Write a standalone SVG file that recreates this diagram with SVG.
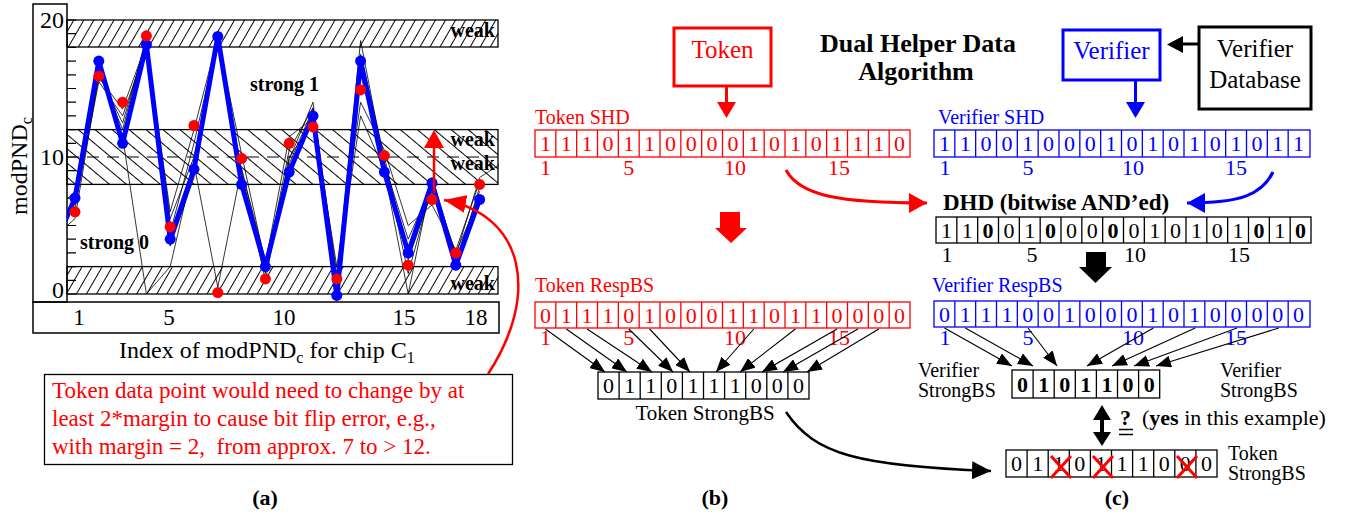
<svg xmlns="http://www.w3.org/2000/svg" width="1361" height="519" viewBox="0 0 1361 519">
<defs>
<style>
text{font-family:"Liberation Serif","Times New Roman",serif;}
.b{font-weight:bold}
.box{fill:none;stroke-width:1.3}
.red{fill:#f00}
.blue{fill:#00f}
.blk{fill:#000}
.thin{fill:none;stroke:#000;stroke-width:0.8}
.ax{fill:none;stroke:#000;stroke-width:1.5}
.arr{stroke:#000;stroke-width:1.1;fill:none;marker-end:url(#ahK)}
</style>
<pattern id="hatchF" patternUnits="userSpaceOnUse" width="8.7" height="10" patternTransform="rotate(30)"><line x1="4.35" y1="-1" x2="4.35" y2="11" stroke="#000" stroke-width="1"/></pattern>
<pattern id="hatchB" patternUnits="userSpaceOnUse" width="10.9" height="10" patternTransform="rotate(-50)"><line x1="5.45" y1="-1" x2="5.45" y2="11" stroke="#000" stroke-width="1"/></pattern>
<clipPath id="plotclip"><rect x="67" y="4" width="432" height="294"/></clipPath>
<marker id="ahK" markerUnits="userSpaceOnUse" markerWidth="15" markerHeight="12" refX="15" refY="6" orient="auto"><path d="M0,0L15,6L0,12z" fill="#000"/></marker>
<marker id="ahK2" markerUnits="userSpaceOnUse" markerWidth="19" markerHeight="18" refX="19" refY="9" orient="auto"><path d="M0,0L19,9L0,18z" fill="#000"/></marker>
<marker id="ahR" markerUnits="userSpaceOnUse" markerWidth="18" markerHeight="20" refX="18" refY="10" orient="auto"><path d="M0,0L18,10L0,20z" fill="#f00"/></marker>
<marker id="ahBl" markerUnits="userSpaceOnUse" markerWidth="18" markerHeight="20" refX="18" refY="10" orient="auto"><path d="M0,0L18,10L0,20z" fill="#00f"/></marker>
<marker id="ahR2" markerUnits="userSpaceOnUse" markerWidth="22" markerHeight="18" refX="22" refY="9" orient="auto"><path d="M0,0L22,9L0,18z" fill="#f00"/></marker>
</defs>
<rect width="1361" height="519" fill="#fff"/>

<!-- (a) chart -->
<g id="chart">
<rect x="67" y="20" width="431" height="27" fill="url(#hatchF)" stroke="#000" stroke-width="1.3"/>
<rect x="67" y="129.6" width="431" height="54.8" fill="url(#hatchB)" stroke="#000" stroke-width="1.3"/>
<rect x="67" y="266.6" width="431" height="27.4" fill="url(#hatchF)" stroke="#000" stroke-width="1.3"/>
<line x1="67" y1="157" x2="498" y2="157" stroke="#000" stroke-width="1.2" stroke-dasharray="12 8"/>
<rect x="33" y="4" width="34" height="298" class="ax"/>
<rect x="33" y="302" width="466" height="31" class="ax"/>
<path d="M67 294h9M67 280.3h9M67 266.6h9M67 252.9h9M67 239.2h9M67 225.5h9M67 211.8h9M67 198.1h9M67 184.4h9M67 170.7h9M67 157h9M67 143.3h9M67 129.6h9M67 115.9h9M67 102.2h9M67 88.5h9M67 74.8h9M67 61.1h9M67 47.4h9M67 33.7h9M67 20h9" stroke="#000" stroke-width="1.2"/>
<g font-size="24" text-anchor="end"><text x="64" y="28">20</text><text x="64" y="165">10</text><text x="64" y="298">0</text></g>
<text transform="translate(27,166) rotate(-90)" font-size="24" text-anchor="middle">modPND<tspan font-size="16" dy="5">c</tspan></text>
<g font-size="23" text-anchor="middle"><text x="79" y="325">1</text><text x="169" y="325">5</text><text x="284" y="325">10</text><text x="404" y="325">15</text><text x="476" y="325">18</text></g>
<text x="119" y="358" font-size="24">Index of modPND<tspan font-size="16" dy="5">c</tspan><tspan dy="-5"> for chip C</tspan><tspan font-size="16" dy="5">1</tspan></text>
<g clip-path="url(#plotclip)">
<polyline class="thin" points="51.2,240 75,218.6 98.8,74.8 122.6,122.8 146.4,40.6 170.2,218.6 194,157 217.8,40.6 241.6,170.7 265.4,259.8 289.2,163.9 313,109.1 336.8,280.3 360.6,40.6 384.4,163.9 408.2,239.2 432,184.4 455.8,252.9 479.6,198.1"/>
<polyline class="thin" points="75,205 98.8,81.6 122.6,115.9 146.4,47.4 170.2,232.4 194,143.3 217.8,39.2 241.6,177.5 265.4,273.5 289.2,157 313,122.8 336.8,287.2 360.6,54.3 384.4,157 408.2,259.8 432,191.3 455.8,259.8 479.6,191.3"/>
<polyline class="thin" points="51.2,215 75,191.3 98.8,68 122.6,136.5 146.4,294 170.2,266.6 194,163.9 217.8,287.2 241.6,168 265.4,269.3 289.2,150.2 313,107.7 336.8,273.5 360.6,115.9 384.4,170.7 408.2,294 432,177.5 455.8,255.6 479.6,177.5 499,165"/>
<polyline class="thin" points="75,200.8 98.8,77.5 122.6,109.1 146.4,43.3 170.2,211.8 194,129.6 217.8,37.8 241.6,154.3 265.4,263.9 289.2,136.5 313,118.6 336.8,266.6 360.6,102.2 384.4,150.2 408.2,225.5 432,205 455.8,250.2 479.6,181.7"/>
<polyline class="thin" points="75,209.1 98.8,72.1 122.6,129.6 146.4,36.4 170.2,246.1 194,177.5 217.8,35.1 241.6,173.4 265.4,280.3 289.2,159.7 313,102.2 336.8,291.3 360.6,74.8 384.4,162.5 408.2,273.5 432,187.1 455.8,266.6 479.6,187.1"/>
<polyline fill="none" stroke="#00f" stroke-width="5" stroke-linejoin="round" points="51.2,252.9 75,198.1 98.8,61.1 122.6,143.3 146.4,44.7 170.2,239.2 194,169.3 217.8,36.4 241.6,184.4 265.4,266.6 289.2,172.1 313,115.9 336.8,295.4 360.6,61.1 384.4,172.1 408.2,252.9 432,183 455.8,265.2 479.6,199.5"/>
</g>
<g class="blue">
<circle cx="75" cy="198.1" r="5.5"/><circle cx="98.8" cy="61.1" r="5.5"/><circle cx="122.6" cy="143.3" r="5.5"/><circle cx="146.4" cy="44.7" r="5.5"/><circle cx="170.2" cy="239.2" r="5.5"/><circle cx="194" cy="169.3" r="5.5"/><circle cx="217.8" cy="36.4" r="5.5"/><circle cx="241.6" cy="184.4" r="5.5"/><circle cx="265.4" cy="266.6" r="5.5"/><circle cx="289.2" cy="172.1" r="5.5"/><circle cx="313" cy="115.9" r="5.5"/><circle cx="336.8" cy="295.4" r="5.5"/><circle cx="360.6" cy="61.1" r="5.5"/><circle cx="384.4" cy="172.1" r="5.5"/><circle cx="408.2" cy="252.9" r="5.5"/><circle cx="432" cy="183" r="5.5"/><circle cx="455.8" cy="265.2" r="5.5"/><circle cx="479.6" cy="199.5" r="5.5"/>
</g>
<g class="red">
<circle cx="75" cy="211.8" r="5.5"/><circle cx="98.8" cy="76.2" r="5.5"/><circle cx="122.6" cy="102.2" r="5.5"/><circle cx="146.4" cy="35.8" r="5.5"/><circle cx="170.2" cy="226.9" r="5.5"/><circle cx="194" cy="125.5" r="5.5"/><circle cx="217.8" cy="292.6" r="5.5"/><circle cx="241.6" cy="158.4" r="5.5"/><circle cx="265.4" cy="278.9" r="5.5"/><circle cx="289.2" cy="143.3" r="5.5"/><circle cx="313" cy="126.9" r="5.5"/><circle cx="336.8" cy="278.9" r="5.5"/><circle cx="360.6" cy="89.9" r="5.5"/><circle cx="384.4" cy="155.6" r="5.5"/><circle cx="408.2" cy="265.2" r="5.5"/><circle cx="432" cy="199.5" r="5.5"/><circle cx="455.8" cy="252.9" r="5.5"/><circle cx="479.6" cy="184.4" r="5.5"/>
</g>
<g class="b" font-size="20">
<text x="495" y="37" text-anchor="end">weak</text>
<text x="495" y="146" text-anchor="end">weak</text>
<text x="495" y="170" text-anchor="end">weak</text>
<text x="495" y="290" text-anchor="end">weak</text>
<text x="250" y="91">strong 1</text>
<text x="80" y="249">strong 0</text>
</g>
<line x1="434" y1="193" x2="434" y2="147" stroke="#f00" stroke-width="2.5"/>
<polygon points="424,148 444,148 434,130" fill="#f00"/>
</g>

<g id="annotation">
<rect x="44.5" y="374.5" width="468" height="90" fill="#fff" stroke="#000" stroke-width="1.3"/>
<g font-size="23" fill="#f00">
<text x="52" y="398">Token data point would need to change by at</text>
<text x="52" y="426">least 2*margin to cause bit flip error, e.g.,</text>
<text x="52" y="454" xml:space="preserve">with margin = 2,  from approx. 7 to &gt; 12.</text>
</g>
</g>
<text x="265" y="505" font-size="22" class="b" text-anchor="middle">(a)</text>

<!-- (b)/(c) diagram -->
<g id="title" class="b" font-size="26" text-anchor="middle">
<text x="918" y="52">Dual Helper Data</text>
<text x="916" y="80">Algorithm</text>
</g>
<g id="token">
<rect x="674" y="28" width="97" height="58" fill="#fff" stroke="#f00" stroke-width="3"/>
<text x="722.5" y="58" font-size="25" fill="#f00" text-anchor="middle">Token</text>
</g>
<g id="verifier">
<rect x="1063" y="30" width="97" height="50" fill="#fff" stroke="#00f" stroke-width="3"/>
<text x="1111.5" y="59" font-size="25" fill="#00f" text-anchor="middle">Verifier</text>
</g>
<g id="database">
<rect x="1199" y="27" width="112" height="82" fill="#fff" stroke="#000" stroke-width="3"/>
<text x="1255" y="57" font-size="25" text-anchor="middle">Verifier</text>
<text x="1255" y="88" font-size="25" text-anchor="middle">Database</text>
</g>

<g id="tokenSHD" transform="translate(535,130)">
<text x="0" y="-6" font-size="20" fill="#f00">Token SHD</text>
<rect width="375" height="27" class="box" stroke="#f00"/>
<path d="M20.83 0V27M41.67 0V27M62.5 0V27M83.33 0V27M104.17 0V27M125 0V27M145.83 0V27M166.67 0V27M187.5 0V27M208.33 0V27M229.17 0V27M250 0V27M270.83 0V27M291.67 0V27M312.5 0V27M333.33 0V27M354.17 0V27" stroke="#f00" stroke-width="1.3"/>
<text y="21" font-size="22" fill="#f00" text-anchor="middle" x="10.42 31.25 52.08 72.92 93.75 114.58 135.42 156.25 177.08 197.92 218.75 239.58 260.42 281.25 302.08 322.92 343.75 364.58">111011000010101110</text>
<g font-size="22" fill="#f00" text-anchor="middle"><text x="10.42" y="45">1</text><text x="93.75" y="45">5</text><text x="200" y="45">10</text><text x="304" y="45">15</text></g>
</g>

<g id="verifierSHD" transform="translate(934,130)">
<text x="4" y="-6" font-size="20" fill="#00f">Verifier SHD</text>
<rect width="376" height="27" class="box" stroke="#00f"/>
<path d="M20.83 0V27M41.67 0V27M62.5 0V27M83.33 0V27M104.17 0V27M125 0V27M145.83 0V27M166.67 0V27M187.5 0V27M208.33 0V27M229.17 0V27M250 0V27M270.83 0V27M291.67 0V27M312.5 0V27M333.33 0V27M354.17 0V27" stroke="#00f" stroke-width="1.3"/>
<text y="21" font-size="22" fill="#00f" text-anchor="middle" x="10.42 31.25 52.08 72.92 93.75 114.58 135.42 156.25 177.08 197.92 218.75 239.58 260.42 281.25 302.08 322.92 343.75 364.58">110010001010101011</text>
<g font-size="22" fill="#00f" text-anchor="middle"><text x="11" y="45">1</text><text x="94" y="45">5</text><text x="199" y="45">10</text><text x="302" y="45">15</text></g>
</g>

<g id="dhd" transform="translate(936,217)">
<text x="7" y="-7" font-size="23" class="b">DHD (bitwise AND’ed)</text>
<rect width="375" height="26" class="box" stroke="#000"/>
<path d="M20.83 0V26M41.67 0V26M62.5 0V26M83.33 0V26M104.17 0V26M125 0V26M145.83 0V26M166.67 0V26M187.5 0V26M208.33 0V26M229.17 0V26M250 0V26M270.83 0V26M291.67 0V26M312.5 0V26M333.33 0V26M354.17 0V26" stroke="#000" stroke-width="1.3"/>
<text y="20.5" font-size="22" text-anchor="middle"><tspan x="10.42 31.25">11</tspan><tspan x="52.08" class="b">0</tspan><tspan x="72.92 93.75">01</tspan><tspan x="114.58" class="b">0</tspan><tspan x="135.42 156.25">00</tspan><tspan x="177.08" class="b">0</tspan><tspan x="197.92 218.75 239.58 260.42 281.25 302.08">010101</tspan><tspan x="322.92" class="b">0</tspan><tspan x="343.75">1</tspan><tspan x="364.58" class="b">0</tspan></text>
<g font-size="22" text-anchor="middle"><text x="11" y="45">1</text><text x="96" y="45">5</text><text x="199" y="45">10</text><text x="303" y="45">15</text></g>
</g>

<g id="tokenResp" transform="translate(535,302)">
<text x="0" y="-10" font-size="20" fill="#f00">Token RespBS</text>
<rect width="375" height="26" class="box" stroke="#f00"/>
<path d="M20.83 0V26M41.67 0V26M62.5 0V26M83.33 0V26M104.17 0V26M125 0V26M145.83 0V26M166.67 0V26M187.5 0V26M208.33 0V26M229.17 0V26M250 0V26M270.83 0V26M291.67 0V26M312.5 0V26M333.33 0V26M354.17 0V26" stroke="#f00" stroke-width="1.3"/>
<text y="20.5" font-size="22" fill="#f00" text-anchor="middle" x="10.42 31.25 52.08 72.92 93.75 114.58 135.42 156.25 177.08 197.92 218.75 239.58 260.42 281.25 302.08 322.92 343.75 364.58">011101000110110000</text>
<g font-size="22" fill="#f00" text-anchor="middle"><text x="10.42" y="43">1</text><text x="93.75" y="43">5</text><text x="200" y="43">10</text><text x="304" y="43">15</text></g>
</g>

<g id="verifierResp" transform="translate(934,301)">
<text x="-2" y="-9" font-size="20" fill="#00f">Verifier RespBS</text>
<rect width="376" height="26" class="box" stroke="#00f"/>
<path d="M20.83 0V26M41.67 0V26M62.5 0V26M83.33 0V26M104.17 0V26M125 0V26M145.83 0V26M166.67 0V26M187.5 0V26M208.33 0V26M229.17 0V26M250 0V26M270.83 0V26M291.67 0V26M312.5 0V26M333.33 0V26M354.17 0V26" stroke="#00f" stroke-width="1.3"/>
<text y="20.5" font-size="22" fill="#00f" text-anchor="middle" x="10.42 31.25 52.08 72.92 93.75 114.58 135.42 156.25 177.08 197.92 218.75 239.58 260.42 281.25 302.08 322.92 343.75 364.58">011100100010100000</text>
<g font-size="22" fill="#00f" text-anchor="middle"><text x="11" y="44">1</text><text x="94" y="44">5</text><text x="199" y="44">10</text><text x="302" y="44">15</text></g>
</g>

<g id="tokenStrong" transform="translate(598,372)">
<rect width="211" height="27" class="box" stroke="#000"/>
<path d="M21.1 0V27M42.2 0V27M63.3 0V27M84.4 0V27M105.5 0V27M126.6 0V27M147.7 0V27M168.8 0V27M189.9 0V27" stroke="#000" stroke-width="1.3"/>
<text y="21" font-size="22" text-anchor="middle" x="10.55 31.65 52.75 73.85 94.95 116.05 137.15 158.25 179.35 200.45">0110111000</text>
<text x="107" y="48" font-size="21" text-anchor="middle">Token StrongBS</text>
</g>

<g id="verifierStrong" transform="translate(1012,370)">
<rect width="147.7" height="28" class="box" stroke="#000"/>
<path d="M21.1 0V28M42.2 0V28M63.3 0V28M84.4 0V28M105.5 0V28M126.6 0V28" stroke="#000" stroke-width="1.3"/>
<text y="22" font-size="22" class="b" text-anchor="middle" x="10.55 31.65 52.75 73.85 94.95 116.05 137.15">0101100</text>
</g>
<g id="verifierLabels" font-size="20">
<text x="918" y="377">Verifier</text><text x="918" y="397">StrongBS</text>
<text x="1220" y="377">Verifier</text><text x="1220" y="397">StrongBS</text>
</g>

<g id="tokenStrongC" transform="translate(1006,450)">
<rect width="211" height="27" class="box" stroke="#000"/>
<path d="M21.1 0V27M42.2 0V27M63.3 0V27M84.4 0V27M105.5 0V27M126.6 0V27M147.7 0V27M168.8 0V27M189.9 0V27" stroke="#000" stroke-width="1.3"/>
<text y="21" font-size="22" text-anchor="middle" x="10.55 31.65 52.75 73.85 94.95 116.05 137.15 158.25 179.35 200.45">0110111000</text>
<path d="M45 6L65 28M65 6L45 28M87 6L107 28M107 6L87 28M171 6L191 28M191 6L171 28" stroke="#f00" stroke-width="3"/>
<text x="222" y="10" font-size="20">Token</text>
<text x="222" y="30" font-size="20">StrongBS</text>
</g>

<g id="compare">
<line x1="1102" y1="418" x2="1102" y2="434" stroke="#000" stroke-width="4"/>
<polygon points="1093,420 1111,420 1102,405" fill="#000"/>
<polygon points="1093,432 1111,432 1102,446" fill="#000"/>
<text x="1120" y="425" font-size="22" class="b">?</text>
<path d="M1119 429.5h14M1119 434.5h14" stroke="#000" stroke-width="1.5"/>
<text x="1142" y="425" font-size="22">(<tspan class="b">yes</tspan> in this example)</text>
</g>

<g id="connectors">
<line x1="726.5" y1="86" x2="726.5" y2="103" stroke="#f00" stroke-width="3"/>
<polygon points="717,102 736,102 726.5,118" fill="#f00"/>
<line x1="1135.5" y1="80" x2="1135.5" y2="103" stroke="#00f" stroke-width="3"/>
<polygon points="1126,102 1145,102 1135.5,118" fill="#00f"/>
<line x1="1199" y1="44" x2="1182" y2="44" stroke="#000" stroke-width="3"/>
<polygon points="1183,36 1183,53 1167,44.5" fill="#000"/>
<path d="M786 170 C800 196, 840 203, 927 203" fill="none" stroke="#f00" stroke-width="3" marker-end="url(#ahR)"/>
<path d="M1273 172 C1262 195, 1240 203, 1187 203" fill="none" stroke="#00f" stroke-width="3" marker-end="url(#ahBl)"/>
<polygon points="720,212 740,212 740,228 747,228 731,243 715,228 720,228" fill="#f00"/>
<polygon points="1086,252 1106,252 1106,267 1112,267 1095.5,283 1079,267 1086,267" fill="#000"/>
<path d="M786 412 C815 455, 860 466, 991 471" fill="none" stroke="#000" stroke-width="2.5" marker-end="url(#ahK2)"/>
<path d="M488 374 C540 295, 525 215, 444 200" fill="none" stroke="#f00" stroke-width="2.5" marker-end="url(#ahR2)"/>
<line class="arr" x1="545.4" y1="329" x2="605" y2="372"/>
<line class="arr" x1="566.3" y1="329" x2="627" y2="372"/>
<line class="arr" x1="587.1" y1="329" x2="652" y2="372"/>
<line class="arr" x1="628.8" y1="329" x2="673" y2="372"/>
<line class="arr" x1="649.6" y1="329" x2="690" y2="372"/>
<line class="arr" x1="753.8" y1="329" x2="716" y2="372"/>
<line class="arr" x1="795.4" y1="329" x2="740" y2="372"/>
<line class="arr" x1="837.1" y1="329" x2="762" y2="372"/>
<line class="arr" x1="857.9" y1="329" x2="783" y2="372"/>
<line class="arr" x1="878.8" y1="329" x2="807" y2="372"/>
<line class="arr" x1="944.5" y1="328" x2="1012" y2="366"/>
<line class="arr" x1="965.3" y1="328" x2="1033" y2="366"/>
<line class="arr" x1="1028" y1="328" x2="1057" y2="366"/>
<line class="arr" x1="1153.4" y1="328" x2="1087" y2="366"/>
<line class="arr" x1="1195.2" y1="328" x2="1112" y2="366"/>
<line class="arr" x1="1237" y1="328" x2="1134" y2="366"/>
<line class="arr" x1="1278.8" y1="328" x2="1156" y2="366"/>
</g>

<text x="715" y="505" font-size="22" class="b" text-anchor="middle">(b)</text>
<text x="1117" y="505" font-size="22" class="b" text-anchor="middle">(c)</text>
</svg>
